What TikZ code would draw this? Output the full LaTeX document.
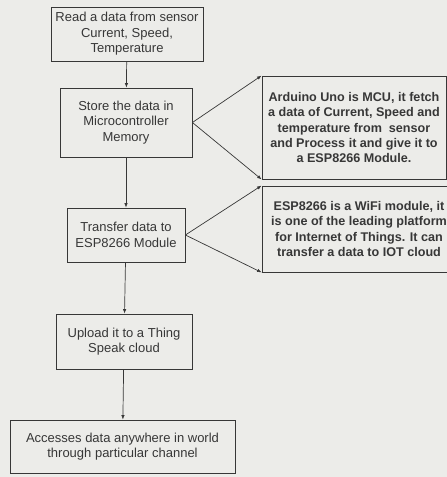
\documentclass[tikz,border=0pt]{standalone}
\usepackage{fontspec}
\setmainfont{Liberation Sans}
\usetikzlibrary{arrows.meta}
\definecolor{bg}{RGB}{236,236,233}
\definecolor{ink}{RGB}{55,55,55}
\begin{document}
\begin{tikzpicture}[x=1pt,y=-1pt,
  flow/.style={draw=ink, line width=0.8pt, text=ink, align=center, inner sep=0pt,
    font=\fontsize{13}{15.5}\selectfont},
  note/.style={draw=ink, line width=0.8pt, text=ink, align=center, inner sep=0pt,
    font=\fontsize{12.6}{15.3}\selectfont\bfseries},
  arr/.style={draw=ink, line width=0.7pt, -{Latex[length=4.5pt,width=3.5pt]}}]
\fill[bg] (0,0) rectangle (447,477);
\useasboundingbox (0,0) rectangle (447,477);
\clip (0,0) rectangle (447,477);
\node[flow, minimum width=152pt, minimum height=54pt] (b1) at (127,34)
  {Read a data from sensor\\Current, Speed,\\Temperature};
\node[flow, minimum width=132pt, minimum height=69pt] (b2) at (126,122.5)
  {Store the data in\\Microcontroller\\Memory};
\node[flow, minimum width=118pt, minimum height=54pt] (b3) at (126,235)
  {Transfer data to\\ESP8266 Module};
\node[flow, minimum width=136pt, minimum height=55pt] (b4) at (124,341.5)
  {Upload it to a Thing\\Speak cloud};
\node[flow, minimum width=225pt, minimum height=53pt] (b5) at (122.5,446.5)
  {Accesses data anywhere in world\\through particular channel};
\node[note, minimum width=184pt, minimum height=103pt] (na) at (354,127.5)
  {Arduino Uno is MCU, it fetch\\a data of Current, Speed and\\temperature from\ \ sensor\\and Process it and give it to\\a ESP8266 Module.};
\node[note, minimum width=194pt, minimum height=86pt] (nb) at (359,229)
  {ESP8266 is a WiFi module, it\\is one of the leading platform\\for Internet of Things. It can\\transfer a data to IOT cloud};
\draw[arr] (b1) -- (b2);
\draw[arr] (b2) -- (b3);
\draw[arr] (b3) -- (b4);
\draw[arr] (b4) -- (b5);
\draw[arr] (b2.east) -- (na.north west);
\draw[arr] (b2.east) -- (na.south west);
\draw[arr] (b3.east) -- (nb.north west);
\draw[arr] (b3.east) -- (nb.south west);
\end{tikzpicture}
\end{document}
